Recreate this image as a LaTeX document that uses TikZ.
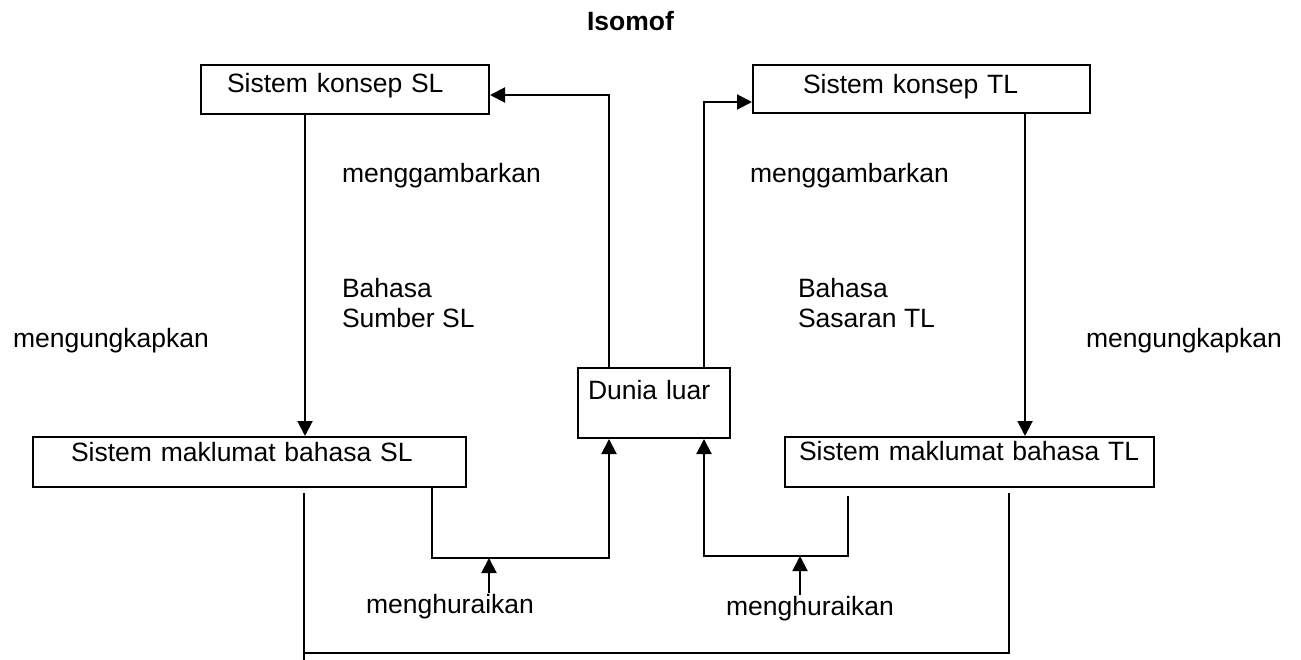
\documentclass[tikz,border=0pt]{standalone}
\usepackage{fontspec}
\setmainfont{Liberation Sans}
\usetikzlibrary{arrows.meta}

\begin{document}
\begin{tikzpicture}[x=1pt, y=-1pt, line width=2pt,
    kotak/.style={draw, anchor=north west, inner sep=0pt, align=left},
    tulisan/.style={anchor=base west, inner sep=0pt, align=left},
    panah/.style={-{Triangle[length=15pt, width=15pt]}},
    font=\fontsize{26.5}{30}\selectfont]
    \useasboundingbox (0,0) rectangle (1301,660);

    % -----------------------------------------------------
    % 1) Kotak: sistem konsep, sistem maklumat, dunia luar
    % -----------------------------------------------------
    \node[kotak, minimum width=288pt, text width=236pt, text height=28pt, text depth=21pt]
        (konsepSL) at (200,64) {Sistem konsep SL};
    \node[kotak, minimum width=337pt, text width=237pt, text height=29pt, text depth=19pt]
        (konsepTL) at (752,64) {Sistem konsep TL};
    \node[kotak, minimum width=433pt, text width=357pt, text height=24pt, text depth=26pt]
        (maklumatSL) at (32,436) {Sistem maklumat bahasa SL};
    \node[kotak, minimum width=369pt, text width=341pt, text height=23pt, text depth=27pt]
        (maklumatTL) at (784,436) {\mbox{Sistem maklumat bahasa TL}};
    \node[kotak, minimum width=152pt, text width=132pt, text height=31pt, text depth=39pt]
        (dunia) at (577,367) {Dunia luar};

    % -----------------------------------------------------
    % 2) Tulisan
    % -----------------------------------------------------
    \node[tulisan, font=\fontsize{26.5}{30}\selectfont\bfseries] (judul) at (586,31) {Isomof};
    \node[tulisan] (gambarSL) at (341,183) {menggambarkan};
    \node[tulisan] (gambarTL) at (749,183) {menggambarkan};
    \node[tulisan] (bahasaSL) at (341,327) {Bahasa\\Sumber SL};
    \node[tulisan] (bahasaTL) at (797,327) {Bahasa\\Sasaran TL};
    \node[tulisan] (ungkapSL) at (12,347) {mengungkapkan};
    \node[tulisan] (ungkapTL) at (1085,347) {mengungkapkan};
    \node[tulisan] (huraiSL) at (365,613) {menghuraikan};
    \node[tulisan] (huraiTL) at (725,615) {menghuraikan};

    % -----------------------------------------------------
    % 3) Titik bantu untuk garis
    % -----------------------------------------------------
    \coordinate (kolomSL) at (305,0);
    \coordinate (kolomTL) at (1025,0);
    \coordinate (siku1) at (609,95);
    \coordinate (siku2) at (704,102);
    \coordinate (siku3) at (432,558);
    \coordinate (siku4) at (848,556);
    \coordinate (kaki4) at (848,496);
    \coordinate (kakiKiri) at (304,493);
    \coordinate (dasarKiri) at (304,653);
    \coordinate (dasarKanan) at (1009,653);
    \coordinate (kakiKanan) at (1009,493);

    % -----------------------------------------------------
    % 4) Panah mengungkapkan (konsep -> maklumat)
    % -----------------------------------------------------
    \draw[panah] (konsepSL.south -| kolomSL) -- (maklumatSL.north -| kolomSL);
    \draw[panah] (konsepTL.south -| kolomTL) -- (maklumatTL.north -| kolomTL);

    % -----------------------------------------------------
    % 5) Panah menggambarkan (dunia luar -> konsep)
    % -----------------------------------------------------
    \draw[panah] (dunia.north -| siku1) -- (siku1) -- (siku1 -| konsepSL.east);
    \draw[panah] (dunia.north -| siku2) -- (siku2) -- (siku2 -| konsepTL.west);

    % -----------------------------------------------------
    % 6) Panah menghuraikan (maklumat -> dunia luar)
    % -----------------------------------------------------
    \draw[panah] (maklumatSL.south -| siku3) -- (siku3) -- (siku3 -| siku1) -- (dunia.south -| siku1);
    \draw[panah] (kaki4) -- (siku4) -- (siku4 -| siku2) -- (dunia.south -| siku2);
    \draw[panah] (huraiSL.north -| 489,0) -- (siku3 -| 489,0);
    \draw[panah] (huraiTL.north -| 800,0) -- (siku4 -| 800,0);

    % -----------------------------------------------------
    % 7) Garis isomof di bawah
    % -----------------------------------------------------
    \draw (kakiKiri) -- (kakiKiri |- 0,660);
    \draw (dasarKiri) -- (dasarKanan) -- (kakiKanan);

\end{tikzpicture}
\end{document}
